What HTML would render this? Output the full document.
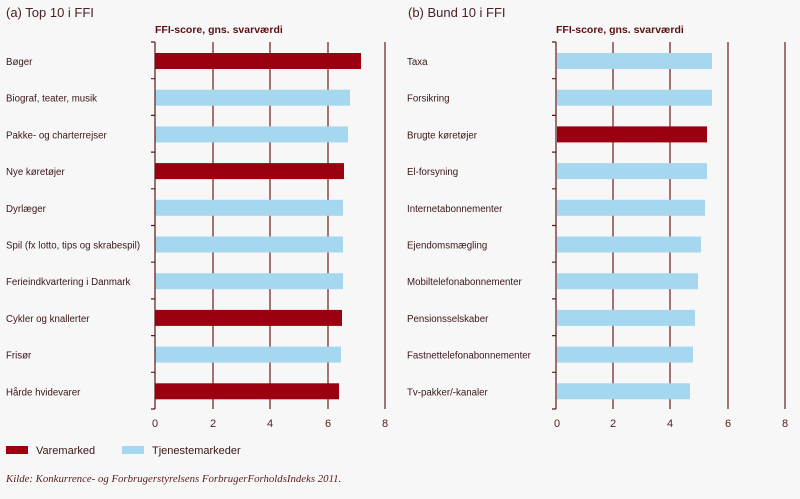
<!DOCTYPE html>
<html><head><meta charset="utf-8"><style>
body{margin:0;background:#f7f7f7;}
svg{display:block;font-family:"Liberation Sans",sans-serif;}
.l{font-size:9.7px;fill:#3a1616;}
.t{font-size:11px;fill:#5a1a1a;text-anchor:middle;}
</style></head><body>
<svg width="800" height="499" viewBox="0 0 800 499">
<rect width="800" height="499" fill="#f7f7f7"/>
<text x="6" y="17" font-size="13" fill="#4a2020">(a) Top 10 i FFI</text>
<text x="408" y="17" font-size="13" fill="#4a2020">(b) Bund 10 i FFI</text>
<text x="155" y="33" font-size="10.5" font-weight="bold" fill="#5a1010">FFI-score, gns. svarværdi</text>
<text x="556" y="33" font-size="10.5" font-weight="bold" fill="#5a1010">FFI-score, gns. svarværdi</text>
<g stroke="#7a2a2a" stroke-width="1.3">
<line x1="213" y1="42" x2="213" y2="409"/><line x1="270" y1="42" x2="270" y2="409"/><line x1="328" y1="42" x2="328" y2="409"/><line x1="385" y1="42" x2="385" y2="409"/>
<line x1="613" y1="42" x2="613" y2="409"/><line x1="670" y1="42" x2="670" y2="409"/><line x1="728" y1="42" x2="728" y2="409"/><line x1="785" y1="42" x2="785" y2="409"/>
</g>
<g fill="#990010">
<rect x="155" y="53" width="206" height="16"/>
<rect x="155" y="163.1" width="189" height="16"/>
<rect x="155" y="309.9" width="187" height="16"/>
<rect x="155" y="383.3" width="184" height="16"/>
<rect x="557" y="126.4" width="150" height="16"/>
</g>
<g fill="#a5d8ef">
<rect x="155" y="89.7" width="195" height="16"/>
<rect x="155" y="126.4" width="193" height="16"/>
<rect x="155" y="199.8" width="188" height="16"/>
<rect x="155" y="236.5" width="188" height="16"/>
<rect x="155" y="273.2" width="188" height="16"/>
<rect x="155" y="346.6" width="186" height="16"/>
<rect x="557" y="53" width="155" height="16"/>
<rect x="557" y="89.7" width="155" height="16"/>
<rect x="557" y="163.1" width="150" height="16"/>
<rect x="557" y="199.8" width="148" height="16"/>
<rect x="557" y="236.5" width="144" height="16"/>
<rect x="557" y="273.2" width="141" height="16"/>
<rect x="557" y="309.9" width="138" height="16"/>
<rect x="557" y="346.6" width="136" height="16"/>
<rect x="557" y="383.3" width="133" height="16"/>
</g>
<g stroke="#5a1a1a" stroke-width="1.2">
<line x1="155" y1="42" x2="155" y2="409"/><line x1="556" y1="42" x2="556" y2="409"/>
<path d="M151 42h4M151 78.7h4M151 115.4h4M151 152.1h4M151 188.8h4M151 225.5h4M151 262.2h4M151 298.9h4M151 335.6h4M151 372.3h4M151 409h4"/>
<path d="M552 42h4M552 78.7h4M552 115.4h4M552 152.1h4M552 188.8h4M552 225.5h4M552 262.2h4M552 298.9h4M552 335.6h4M552 372.3h4M552 409h4"/>
</g>
<g class="l">
<text x="6" y="65">Bøger</text>
<text x="6" y="101.7">Biograf, teater, musik</text>
<text x="6" y="138.4">Pakke- og charterrejser</text>
<text x="6" y="175.1">Nye køretøjer</text>
<text x="6" y="211.8">Dyrlæger</text>
<text x="6" y="248.5">Spil (fx lotto, tips og skrabespil)</text>
<text x="6" y="285.2">Ferieindkvartering i Danmark</text>
<text x="6" y="321.9">Cykler og knallerter</text>
<text x="6" y="358.6">Frisør</text>
<text x="6" y="395.3">Hårde hvidevarer</text>
<text x="407" y="65">Taxa</text>
<text x="407" y="101.7">Forsikring</text>
<text x="407" y="138.4">Brugte køretøjer</text>
<text x="407" y="175.1">El-forsyning</text>
<text x="407" y="211.8">Internetabonnementer</text>
<text x="407" y="248.5">Ejendomsmægling</text>
<text x="407" y="285.2">Mobiltelefonabonnementer</text>
<text x="407" y="321.9">Pensionsselskaber</text>
<text x="407" y="358.6">Fastnettelefonabonnementer</text>
<text x="407" y="395.3">Tv-pakker/-kanaler</text>
</g>
<g class="t">
<text x="155" y="427">0</text><text x="213" y="427">2</text><text x="270" y="427">4</text><text x="328" y="427">6</text><text x="385" y="427">8</text>
<text x="557" y="427">0</text><text x="613" y="427">2</text><text x="670" y="427">4</text><text x="728" y="427">6</text><text x="785" y="427">8</text>
</g>
<rect x="6" y="446" width="22" height="8" fill="#990010"/>
<text x="36" y="454" font-size="11" fill="#3a1616">Varemarked</text>
<rect x="122" y="446" width="22" height="8" fill="#a5d8ef"/>
<text x="152" y="454" font-size="11" fill="#3a1616">Tjenestemarkeder</text>
<text x="6" y="482" font-size="10.8" font-style="italic" fill="#5a1a1a" font-family="Liberation Serif, serif">Kilde: Konkurrence- og Forbrugerstyrelsens ForbrugerForholdsIndeks 2011.</text>
</svg>
</body></html>
